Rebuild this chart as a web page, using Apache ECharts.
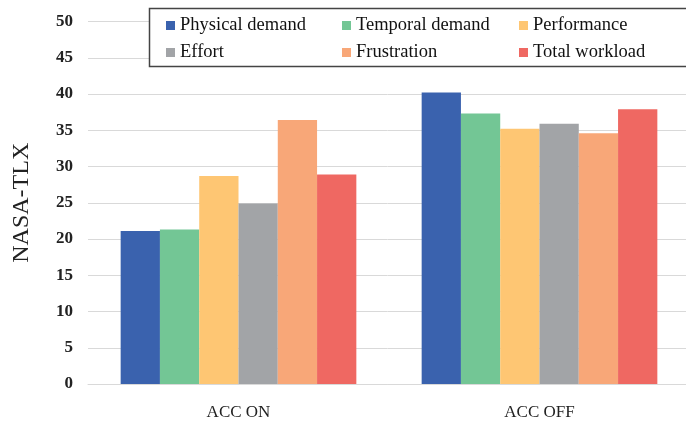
<!DOCTYPE html>
<html><head><meta charset="utf-8">
<script src="https://cdn.jsdelivr.net/npm/echarts@6/dist/echarts.min.js"></script>
<style>html,body{margin:0;padding:0;background:#fff}#c{width:686px;height:423px}</style>
</head><body><div id="c"></div>
<script>
const categories = ["ACC ON", "ACC OFF"];
const seriesNames = ["Physical demand", "Temporal demand", "Performance", "Effort", "Frustration", "Total workload"];
const physicalDemand = [21.1, 40.2];
const temporalDemand = [21.3, 37.3];
const performance = [28.7, 35.2];
const effort = [24.9, 35.9];
const frustration = [36.4, 34.6];
const totalWorkload = [28.9, 37.9];
const yTicks = [0, 5, 10, 15, 20, 25, 30, 35, 40, 45, 50];

const values = [physicalDemand, temporalDemand, performance, effort, frustration, totalWorkload];
const colors = ["#3A62AE", "#73C695", "#FEC673", "#A2A4A7", "#F8A778", "#EF6862"];
const serif = "'Liberation Serif', 'DejaVu Serif', serif";

const legendBase = {
  orient: 'vertical', top: 11, itemWidth: 9, itemHeight: 9, itemGap: 8, icon: 'rect', z: 20,
  textStyle: {fontFamily: serif, fontSize: 18.5, color: '#111'},
  selectedMode: false
};
const chart = echarts.init(document.getElementById('c'), null, {renderer: 'canvas'});
chart.setOption({
  animation: false,
  grid: {left: 88, top: 21.5, width: 602, bottom: 39, containLabel: false, outerBoundsMode: 'none'},
  legend: [
    Object.assign({}, legendBase, {left: 161, data: [seriesNames[0], seriesNames[3]]}),
    Object.assign({}, legendBase, {left: 337, data: [seriesNames[1], seriesNames[4]]}),
    Object.assign({}, legendBase, {left: 514, data: [seriesNames[2], seriesNames[5]]})
  ],
  graphic: [{type: 'rect', z: 10, shape: {x: 149.5, y: 8.5, width: 540, height: 58}, style: {fill: '#fff', stroke: '#444', lineWidth: 1.5}}],
  xAxis: {
    type: 'category', data: categories,
    axisLine: {lineStyle: {color: '#d9d9d9'}}, axisTick: {show: false},
    axisLabel: {fontFamily: serif, fontSize: 17, color: '#222', margin: 20}
  },
  yAxis: {
    type: 'value', min: yTicks[0], max: yTicks[yTicks.length - 1], interval: 5,
    name: 'NASA-TLX', nameLocation: 'middle', nameGap: 54, nameRotate: 90,
    nameTextStyle: {fontFamily: serif, fontSize: 24, color: '#222'},
    axisLine: {show: false}, axisTick: {show: false},
    splitLine: {lineStyle: {color: '#d9d9d9', width: 1}},
    axisLabel: {fontFamily: serif, fontSize: 17, fontWeight: 'bold', color: '#222', margin: 15}
  },
  series: seriesNames.map((n, i) => ({
    name: n, type: 'bar', data: values[i], barGap: '0%', barCategoryGap: '21.7%',
    itemStyle: {color: colors[i]}
  }))
});
</script></body></html>
